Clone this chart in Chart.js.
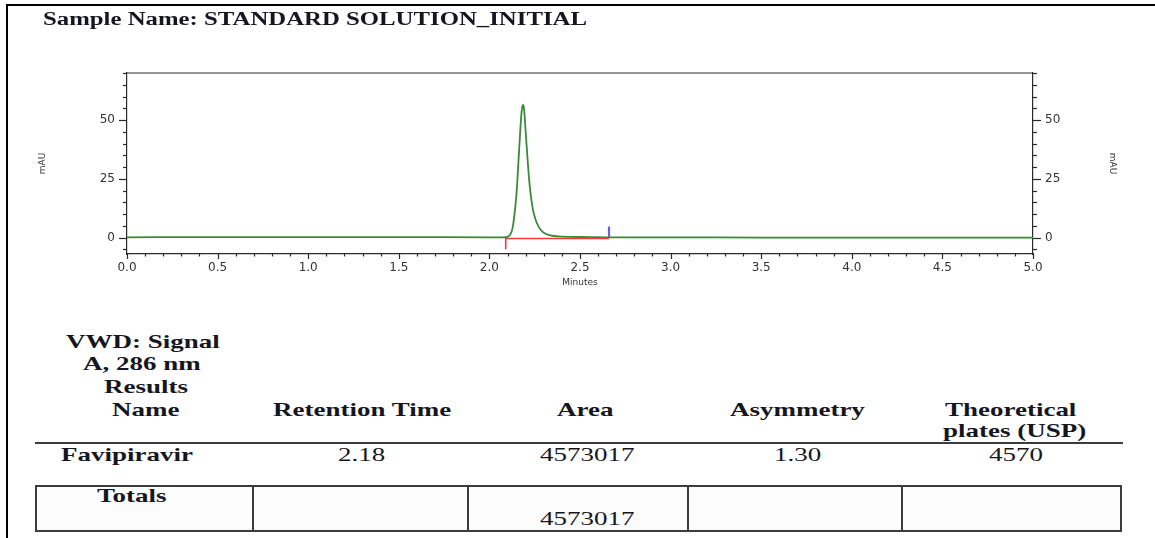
<!DOCTYPE html>
<html>
<head>
<meta charset="utf-8">
<script src="https://cdn.jsdelivr.net/npm/chart.js@4.4.1/dist/chart.umd.min.js"></script>
<style>
  html, body { margin: 0; padding: 0; background: #fff; }
  #page { position: relative; width: 1155px; height: 538px; overflow: hidden; background: #fff; }
  #chart { position: absolute; left: 0; top: 0; }
  .t { position: absolute; white-space: nowrap; line-height: 1; font-family: "Liberation Serif", "Times New Roman", serif; color: #161620; transform-origin: 0 0; }
  .rule { position: absolute; background: #3c3c3c; }
  .box { position: absolute; box-sizing: border-box; border: 2px solid #3c3c3c; background: #fcfcfc; }
</style>
</head>
<body>
<div id="page">
  <div class="rule" style="left:6px;top:4px;width:2px;height:534px;background:#000"></div>
  <div class="rule" style="left:6px;top:4px;width:1149px;height:2px;background:#000"></div>
  <canvas id="chart" width="1155" height="300"></canvas>
  <div class="rule" style="left:35px;top:442px;width:1088px;height:2px;"></div>
  <div class="box" style="left:35px;top:485px;width:1087px;height:47px;"></div>
  <div class="rule" style="left:252px;top:485px;width:2px;height:47px;"></div>
  <div class="rule" style="left:467px;top:485px;width:2px;height:47px;"></div>
  <div class="rule" style="left:687px;top:485px;width:2px;height:47px;"></div>
  <div class="rule" style="left:901px;top:485px;width:2px;height:47px;"></div>
</div>
<script>
// Detector trace (minutes, mAU)
const times  = [0, 0.5, 1.0, 1.5, 2.0, 2.08, 2.10, 2.12, 2.13, 2.14, 2.15, 2.16, 2.17, 2.175, 2.18, 2.185, 2.19, 2.195, 2.20, 2.21, 2.22, 2.23, 2.24, 2.25, 2.26, 2.28, 2.30, 2.33, 2.38, 2.45, 2.55, 2.66, 3.0, 3.5, 4.0, 4.5, 5.0];
const signal = [0.1, 0.2, 0.2, 0.2, 0.1, 0.1, 0.3, 2.0, 5.0, 11, 19, 32, 45, 51, 55, 56.4, 55.5, 51, 45, 34, 24, 17, 12, 8.8, 6.5, 3.6, 2.0, 1.0, 0.5, 0.3, 0.2, 0.1, 0.1, 0.0, 0.0, 0.0, 0.0];

// Integration baseline (start drop + baseline) and peak end marker
const baselineTimes  = [2.09, 2.09, 2.66];
const baselineLevels = [-5, -0.4, -0.4];
const endMarkTimes   = [2.66, 2.66];
const endMarkLevels  = [0, 4.7];

// Axis ticks
const xMajorTicks = [0, 0.5, 1.0, 1.5, 2.0, 2.5, 3.0, 3.5, 4.0, 4.5, 5.0];
const yMajorTicks = [0, 25, 50];

// Results table
const signalCaption = ['VWD: Signal', 'A, 286 nm', 'Results'];
const columnHeads   = ['Name', 'Retention Time', 'Area', 'Asymmetry', 'Theoretical'];
const columnHeadSub = 'plates (USP)';
const peakRow       = ['Favipiravir', '2.18', '4573017', '1.30', '4570'];
const totalsLabel   = 'Totals';
const totalArea     = '4573017';

const toPoints = (xs, ys) => xs.map((v, i) => ({ x: v, y: ys[i] }));

const axisFont = { family: 'DejaVu Sans', size: 12 };
const titleFont = { family: 'DejaVu Sans', size: 9 };

const frameTicks = {
  id: 'frameTicks',
  afterDraw(chart) {
    const { ctx, chartArea: a, scales } = chart;
    const x = scales.x, y = scales.y;
    ctx.save();
    ctx.strokeStyle = '#2a2a2a';
    ctx.lineWidth = 1.2;
    const seg = (x1, y1, x2, y2) => { ctx.beginPath(); ctx.moveTo(x1, y1); ctx.lineTo(x2, y2); ctx.stroke(); };
    seg(a.left, a.top, a.right, a.top);
    for (let i = 0; i <= 50; i++) {
      const px = Math.round(x.getPixelForValue(i / 10)) + 0.5;
      seg(px, a.bottom, px, a.bottom + (i % 5 === 0 ? 5 : 2.5));
    }
    for (let v = -5; v <= 70; v += 5) {
      const py = Math.round(y.getPixelForValue(v)) + 0.5;
      const len = v % 25 === 0 ? 8 : 4;
      seg(a.left - len, py, a.left, py);
      seg(a.right, py, a.right + len, py);
    }
    ctx.restore();
  }
};

const yAxis = (position, width) => ({
  type: 'linear',
  position,
  min: -7,
  max: 70,
  afterBuildTicks: s => { s.ticks = yMajorTicks.map(v => ({ value: v })); },
  afterFit: s => { s.width = width; },
  grid: { display: false, drawTicks: false },
  border: { display: true, color: '#2a2a2a', width: 1.2 },
  ticks: { font: axisFont, color: '#333', padding: 12 },
  title: { display: true, text: 'mAU', font: titleFont, color: '#333', padding: { top: 37, bottom: 0 } }
});

new Chart(document.getElementById('chart'), {
  type: 'line',
  data: {
    datasets: [
      { data: toPoints(baselineTimes, baselineLevels), borderColor: '#ee3b3b', borderWidth: 1.6, pointRadius: 0, tension: 0 },
      { data: toPoints(times, signal), borderColor: '#3a8a3a', borderWidth: 1.8, pointRadius: 0, cubicInterpolationMode: 'monotone' },
      { data: toPoints(endMarkTimes, endMarkLevels), borderColor: '#6b5fe6', borderWidth: 2.2, pointRadius: 0, tension: 0 }
    ]
  },
  options: {
    responsive: false,
    devicePixelRatio: 1,
    animation: false,
    events: [],
    layout: { padding: { top: 73, left: 0, right: 0, bottom: 0 } },
    plugins: { legend: { display: false }, tooltip: { enabled: false } },
    scales: {
      x: {
        type: 'linear',
        position: 'bottom',
        min: 0,
        max: 5,
        afterBuildTicks: s => { s.ticks = xMajorTicks.map(v => ({ value: v })); },
        afterFit: s => { s.height = 46; },
        grid: { display: false, drawTicks: false },
        border: { display: true, color: '#2a2a2a', width: 1.2 },
        ticks: { font: axisFont, color: '#333', padding: 7, maxRotation: 0, callback: v => Number(v).toFixed(1) },
        title: { display: true, text: 'Minutes', font: titleFont, color: '#333', padding: { top: 0, bottom: 12 } }
      },
      y: yAxis('left', 127),
      y2: yAxis('right', 122)
    }
  },
  plugins: [frameTicks]
});

// Header and results table text
const page = document.getElementById('page');
function placeText(str, o) {
  const el = document.createElement('div');
  el.className = 't';
  el.textContent = str;
  el.style.fontSize = o.size + 'px';
  el.style.fontWeight = o.bold ? 'bold' : 'normal';
  page.appendChild(el);
  const w = el.getBoundingClientRect().width;
  const sx = o.width ? o.width / w : o.sx;
  const x = o.left !== undefined ? o.left : o.cx - (w * sx) / 2;
  el.style.left = x + 'px';
  el.style.top = (o.baseline - 0.8375 * o.size) + 'px';
  el.style.transform = 'scaleX(' + sx + ')';
}

placeText('Sample Name: STANDARD SOLUTION_INITIAL', { bold: true, size: 18, left: 43, width: 544, baseline: 25 });

const SX = 1.42, FS = 19;
const captionCenters = [142.5, 142, 145.5];
const captionBaselines = [348, 370, 393];
signalCaption.forEach((s, i) => placeText(s, { bold: true, size: FS, cx: captionCenters[i], baseline: captionBaselines[i], sx: SX }));

const headCenters = [146, 362.5, 585, 797, 1011];
columnHeads.forEach((s, i) => placeText(s, { bold: true, size: FS, cx: headCenters[i], baseline: 416, sx: SX }));
placeText(columnHeadSub, { bold: true, size: FS, cx: 1015, baseline: 437, sx: SX });

const rowCenters = [127, 362, 587, 798, 1016];
peakRow.forEach((s, i) => placeText(s, { bold: i === 0, size: FS, cx: rowCenters[i], baseline: 461, sx: SX }));

placeText(totalsLabel, { bold: true, size: FS, cx: 132, baseline: 502, sx: SX });
placeText(totalArea, { bold: false, size: FS, cx: 587, baseline: 525, sx: SX });
</script>
</body>
</html>
